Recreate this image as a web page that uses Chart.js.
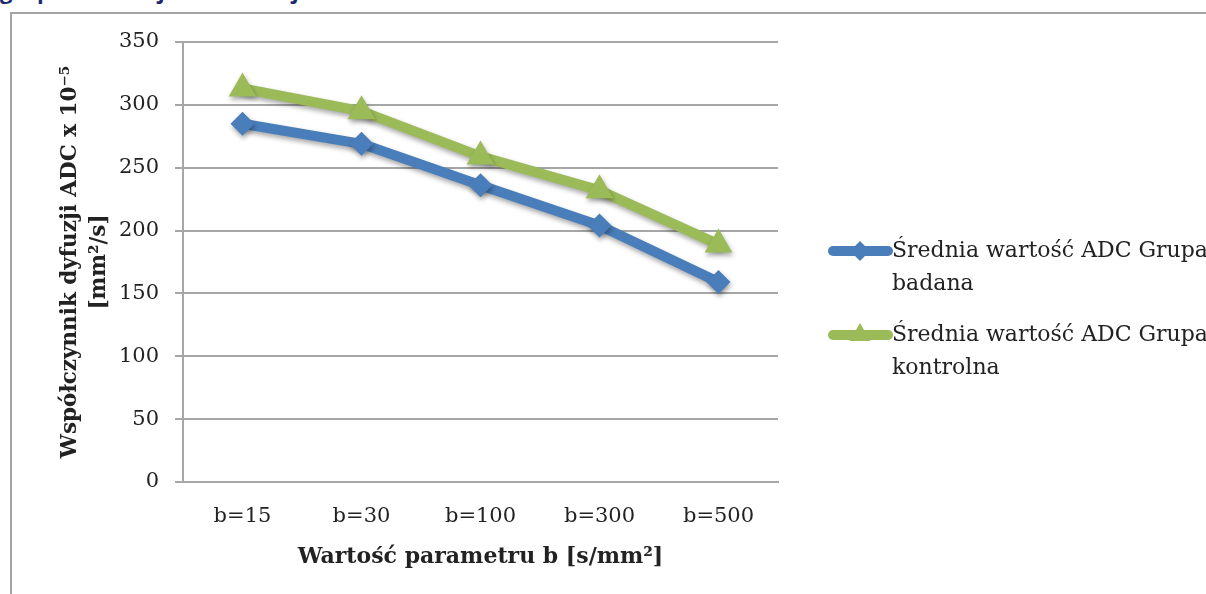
<!DOCTYPE html>
<html>
<head>
<meta charset="utf-8">
<script src="https://cdn.jsdelivr.net/npm/chart.js@4/dist/chart.umd.min.js"></script>
<style>
    html, body { margin: 0; padding: 0; background: #fff; }
    #wrap { position: relative; width: 1206px; height: 594px; overflow: hidden; }
    #heading {
        position: absolute; left: 0; top: -23px; white-space: nowrap;
        font: bold 22px "Open Sans", sans-serif; line-height: 26px; color: #1f2a6e;
    }
    #frame {
        position: absolute; left: 10px; top: 12px; width: 1300px; height: 700px;
        border: 2px solid #a3a3a3;
    }
    #chart { position: absolute; left: 0; top: 0; }
</style>
</head>
<body>
<div id="wrap">
    <div id="heading">grupie badanej i kontrolnej</div>
    <div id="frame"></div>
    <canvas id="chart" width="1206" height="594"></canvas>
</div>
<script>
// Wartości ADC dla kolejnych wartości parametru b
const kategorie = ['b=15', 'b=30', 'b=100', 'b=300', 'b=500'];
const grupaBadana = [285, 269, 236, 204, 159];
const grupaKontrolna = [313, 295, 259, 232, 189];
const legendaBadana = ['Średnia wartość ADC Grupa', 'badana'];
const legendaKontrolna = ['Średnia wartość ADC Grupa', 'kontrolna'];
const tytulY = ['Współczynnik dyfuzji ADC x 10⁻⁵', '[mm²/s]'];
const tytulX = 'Wartość parametru b [s/mm²]';

const NIEBIESKI = '#4a7ebb';
const ZIELONY = '#9bbb59';
const SIATKA = '#a6a6a6';
const TEKST = '#222222';
const SERIF = '"DejaVu Serif", "Liberation Serif", serif';

// Cień pod liniami i znacznikami
const cienPlugin = {
    id: 'cienLinii',
    beforeDatasetDraw(chart) {
        const c = chart.ctx;
        c.save();
        c.shadowColor = 'rgba(0, 0, 0, 0.35)';
        c.shadowBlur = 5;
        c.shadowOffsetX = 1;
        c.shadowOffsetY = 3;
    },
    afterDatasetDraw(chart) {
        chart.ctx.restore();
    }
};

// Legenda po prawej, z zawijanym tekstem
const legendaPlugin = {
    id: 'legendaPrawa',
    afterDraw(chart) {
        const c = chart.ctx;
        const x0 = chart.chartArea.right + 55;
        const wiersze = [251, 335];
        chart.data.datasets.forEach((ds, i) => {
            const y = wiersze[i];
            c.save();
            c.strokeStyle = ds.borderColor;
            c.lineWidth = 10;
            c.lineCap = 'round';
            c.beginPath();
            c.moveTo(x0, y);
            c.lineTo(x0 + 55, y);
            c.stroke();
            c.fillStyle = ds.borderColor;
            Chart.helpers.drawPoint(c, {
                pointStyle: ds.pointStyle,
                radius: ds.pointStyle === 'triangle' ? 12 : 10,
                rotation: 0,
                borderWidth: 0
            }, x0 + 27, y);
            c.fillStyle = TEKST;
            c.font = '22px ' + SERIF;
            c.textBaseline = 'middle';
            c.textAlign = 'left';
            ds.legendaTekst.forEach((linia, k) => {
                c.fillText(linia, x0 + 59, y + k * 33);
            });
            c.restore();
        });
    }
};

const ctx = document.getElementById('chart');
new Chart(ctx, {
    type: 'line',
    data: {
        labels: kategorie,
        datasets: [{
            label: legendaBadana.join(' '),
            legendaTekst: legendaBadana,
            data: grupaBadana,
            borderColor: NIEBIESKI,
            backgroundColor: NIEBIESKI,
            borderWidth: 10,
            borderCapStyle: 'round',
            borderJoinStyle: 'round',
            pointStyle: 'rectRot',
            pointRadius: 12,
            pointBorderWidth: 0,
            tension: 0
        }, {
            label: legendaKontrolna.join(' '),
            legendaTekst: legendaKontrolna,
            data: grupaKontrolna,
            borderColor: ZIELONY,
            backgroundColor: ZIELONY,
            borderWidth: 10,
            borderCapStyle: 'round',
            borderJoinStyle: 'round',
            pointStyle: 'triangle',
            pointRadius: 16,
            pointBorderWidth: 0,
            tension: 0
        }]
    },
    options: {
        responsive: false,
        animation: false,
        layout: { padding: { left: 0, top: 42, right: 428, bottom: 0 } },
        plugins: {
            legend: { display: false },
            tooltip: { enabled: false }
        },
        scales: {
            x: {
                offset: true,
                grid: { display: false, drawTicks: false },
                border: { color: SIATKA, width: 2 },
                ticks: { color: TEKST, padding: 22, font: { family: SERIF, size: 21 } },
                title: {
                    display: true,
                    text: tytulX,
                    color: TEKST,
                    font: { family: SERIF, size: 22, weight: 'bold', lineHeight: 1.2 },
                    padding: { top: 0, bottom: 24 }
                },
                afterFit: (skala) => { skala.height = 112; }
            },
            y: {
                min: 0,
                max: 350,
                ticks: { stepSize: 50, color: TEKST, padding: 16, font: { family: SERIF, size: 21 } },
                grid: { color: SIATKA, lineWidth: 2, tickLength: 8 },
                border: { color: SIATKA, width: 2 },
                title: {
                    display: true,
                    text: tytulY,
                    color: TEKST,
                    font: { family: SERIF, size: 21.5, weight: 'bold', lineHeight: 1.35 },
                    padding: { top: 56, bottom: 0 }
                },
                afterFit: (skala) => { skala.width = 183; }
            }
        }
    },
    plugins: [cienPlugin, legendaPlugin]
});
</script>
</body>
</html>
